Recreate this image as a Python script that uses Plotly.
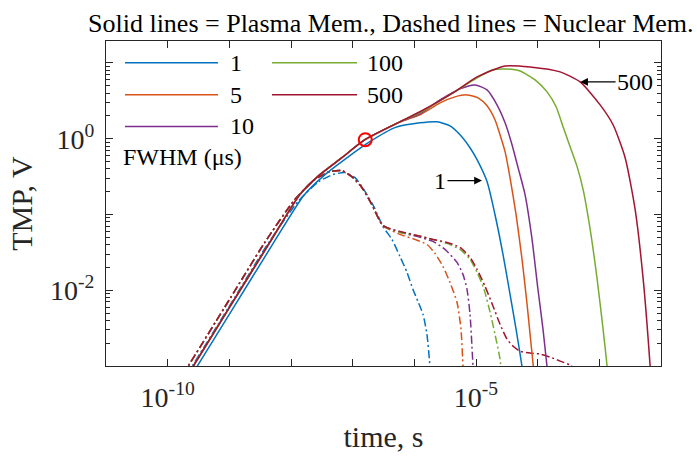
import numpy as np
import plotly.graph_objects as go

# ---------------- data ----------------
# Plasma membrane (solid) - common rising part for FWHM 5, 10, 100, 500 us
t_pm_rise = [1.57e-10, 2.55e-10, 1.01e-9, 4.53e-9, 1.39e-8, 2.94e-8, 6.68e-8, 1.58e-7, 5.84e-7]
v_pm_rise = [5.14e-4, 9.70e-4, 5.98e-3, 0.0428, 0.183, 0.336, 0.562, 0.970, 1.67]

t_pm_1 = [1.82e-10, 2.96e-10, 1.18e-9, 5.26e-9, 1.61e-8, 3.41e-8, 7.76e-8, 1.90e-7, 4.84e-7,
          1.23e-6, 2.33e-6, 3.78e-6, 5.50e-6, 8.00e-6, 1.04e-5, 1.51e-5, 2.03e-5, 2.74e-5,
          3.56e-5, 4.46e-5, 5.58e-5, 6.01e-5]
v_pm_1 = [5.14e-4, 9.70e-4, 5.98e-3, 0.0428, 0.178, 0.326, 0.546, 0.913, 1.40,
          1.62, 1.67, 1.48, 1.13, 0.761, 0.529, 0.272, 0.100, 0.0298,
          8.86e-3, 3.07e-3, 9.70e-4, 5.80e-4]

t_pm_5_tail = [1.23e-6, 2.61e-6, 4.56e-6, 7.14e-6, 1.08e-5, 1.51e-5, 2.03e-5, 2.45e-5, 2.96e-5,
               3.56e-5, 4.46e-5, 5.58e-5, 6.73e-5, 7.81e-5, 8.74e-5]
v_pm_5_tail = [2.07, 2.98, 3.57, 3.79, 3.46, 2.72, 1.78, 1.13, 0.675,
               0.307, 0.100, 0.0256, 6.54e-3, 1.95e-3, 7.85e-4]

t_pm_10_tail = [1.23e-6, 2.61e-6, 5.50e-6, 9.64e-6, 1.51e-5, 2.19e-5, 2.96e-5, 3.84e-5, 4.81e-5,
                6.24e-5, 8.11e-5, 1.01e-4, 1.22e-4, 1.42e-4, 1.53e-4]
v_pm_10_tail = [2.13, 3.26, 4.55, 5.13, 4.41, 2.80, 1.62, 0.834, 0.415,
                0.183, 0.0469, 0.0103, 3.07e-3, 9.70e-4, 5.80e-4]

t_pm_100_tail = [1.23e-6, 4.24e-6, 1.04e-5, 1.82e-5, 2.96e-5, 5.18e-5, 9.08e-5, 1.42e-4, 1.99e-4,
                 2.58e-4, 3.36e-4, 4.36e-4, 5.46e-4, 7.10e-4, 9.21e-4, 1.15e-3, 1.34e-3, 1.44e-3]
v_pm_100_tail = [2.20, 4.03, 6.35, 8.09, 8.34, 7.85, 5.97, 4.15, 2.64,
                 1.44, 0.785, 0.428, 0.213, 0.0635, 0.0140, 3.07e-3, 9.70e-4, 4.98e-4]

t_pm_500_tail = [1.23e-6, 4.24e-6, 1.04e-5, 2.96e-5, 7.53e-5, 2.31e-4, 4.88e-4, 1.03e-3, 1.67e-3,
                 2.62e-3, 3.81e-3, 5.14e-3, 6.68e-3, 7.19e-3]
v_pm_500_tail = [2.27, 4.03, 6.54, 9.13, 8.86, 7.62, 5.62, 2.80, 1.53,
                 0.562, 0.116, 0.0140, 9.70e-4, 3.68e-4]

# Nuclear membrane (dash-dot) - common rising part for FWHM 5, 10, 100, 500 us
t_nm_rise = [1.75e-10, 2.11e-10, 8.42e-10, 3.76e-9, 1.15e-8, 2.43e-8, 4.26e-8, 6.68e-8, 9.70e-8,
             1.41e-7, 2.05e-7, 3.09e-7]
v_nm_rise = [7.62e-4, 9.70e-4, 5.98e-3, 0.0428, 0.157, 0.289, 0.368, 0.379, 0.316,
             0.227, 0.135, 0.0717]

t_nm_1 = [2.03e-10, 2.45e-10, 9.78e-10, 4.36e-9, 1.34e-8, 2.83e-8, 4.77e-8, 7.47e-8, 1.09e-7,
          1.52e-7, 2.21e-7, 3.09e-7, 4.33e-7, 5.84e-7, 7.59e-7, 9.49e-7, 1.14e-6, 1.38e-6,
          1.60e-6, 1.79e-6, 1.86e-6]
v_nm_1 = [7.62e-4, 9.70e-4, 5.98e-3, 0.0428, 0.153, 0.272, 0.336, 0.357, 0.307,
          0.213, 0.127, 0.0695, 0.0469, 0.0280, 0.0173, 0.0103, 7.17e-3, 4.83e-3,
          2.64e-3, 1.0e-3, 6.75e-4]

t_nm_5_tail = [5.84e-7, 1.02e-6, 1.60e-6, 2.16e-6, 2.91e-6, 3.78e-6, 4.92e-6, 5.71e-6, 6.15e-6, 6.38e-6]
v_nm_5_tail = [0.0546, 0.0469, 0.0403, 0.0307, 0.0207, 0.0127, 6.95e-3, 3.07e-3, 1.0e-3, 5.80e-4]

t_nm_10_tail = [5.84e-7, 1.10e-6, 2.00e-6, 3.14e-6, 4.92e-6, 6.15e-6, 7.14e-6, 8.00e-6, 8.94e-6, 9.29e-6]
v_nm_10_tail = [0.0580, 0.0514, 0.0441, 0.0346, 0.0233, 0.0162, 0.0103, 4.83e-3, 1.0e-3, 5.80e-4]

t_nm_100_tail = [5.84e-7, 1.10e-6, 2.00e-6, 3.38e-6, 5.50e-6, 8.00e-6, 1.04e-5, 1.35e-5, 1.69e-5,
                 2.03e-5, 2.45e-5, 2.64e-5]
v_nm_100_tail = [0.0580, 0.0530, 0.0469, 0.0415, 0.0346, 0.0256, 0.0173, 0.0103, 5.14e-3,
                 2.64e-3, 1.24e-3, 6.75e-4]

t_nm_500_tail = [5.84e-7, 1.10e-6, 2.00e-6, 3.38e-6, 5.50e-6, 8.00e-6, 1.04e-5, 1.40e-5, 1.89e-5,
                 2.45e-5, 3.18e-5, 4.14e-5, 5.18e-5, 7.53e-5, 1.09e-4, 1.59e-4, 2.31e-4, 3.36e-4, 4.53e-4]
v_nm_500_tail = [0.0597, 0.0530, 0.0469, 0.0428, 0.0368, 0.0272, 0.0189, 0.0113, 6.16e-3,
                 3.57e-3, 2.27e-3, 1.78e-3, 1.57e-3, 1.48e-3, 1.44e-3, 1.31e-3, 1.16e-3, 1.03e-3, 8.60e-4]

fwhm_labels = ["1", "5", "10", "100", "500"]
colors = ["#0072BD", "#D95319", "#7E2F8E", "#77AC30", "#A2142F"]

marker_t = [1.6e-7]
marker_v = [0.97]

arrow_1 = (1.25e-5, 0.280)     # tip of the "1" arrow
arrow_500 = (4.88e-4, 5.62)    # tip of the "500" arrow

title_text = "Solid lines = Plasma Mem., Dashed lines = Nuclear Mem."
x_title = "time, s"
y_title = "TMP, V"
legend_title = "FWHM (μs)"

# tick labels shown on the axes
x_label_vals = [1e-10, 1e-5]
x_label_text = ["10<sup>-10</sup>", "10<sup>-5</sup>"]
y_label_vals = [1e-2, 1e0]
y_label_text = ["10<sup>-2</sup>", "10<sup>0</sup>"]

# ---------------- assemble series ----------------
pm_t = [t_pm_1,
        t_pm_rise + t_pm_5_tail,
        t_pm_rise + t_pm_10_tail,
        t_pm_rise + t_pm_100_tail,
        t_pm_rise + t_pm_500_tail]
pm_v = [v_pm_1,
        v_pm_rise + v_pm_5_tail,
        v_pm_rise + v_pm_10_tail,
        v_pm_rise + v_pm_100_tail,
        v_pm_rise + v_pm_500_tail]
nm_t = [t_nm_1,
        t_nm_rise + t_nm_5_tail,
        t_nm_rise + t_nm_10_tail,
        t_nm_rise + t_nm_100_tail,
        t_nm_rise + t_nm_500_tail]
nm_v = [v_nm_1,
        v_nm_rise + v_nm_5_tail,
        v_nm_rise + v_nm_10_tail,
        v_nm_rise + v_nm_100_tail,
        v_nm_rise + v_nm_500_tail]

FONT = "Liberation Serif"
AX = "#262626"
W, H = 697, 460
L, R, T, B = 106, 36, 41, 92
pw, ph = W - L - R, H - T - B
Y_RANGE = [-3, 1.29]
X_RANGE = [-11, -2]

def px(x):
    return (x - L) / pw

def py(y):
    return (H - B - y) / ph

fig = go.Figure()

for i in range(5):
    fig.add_trace(go.Scatter(x=nm_t[i], y=nm_v[i], mode="lines",
                             line=dict(color=colors[i], width=1.5, dash="8px,3px,2px,3px",
                                       shape="spline", smoothing=0.6),
                             showlegend=False))
for i in range(5):
    fig.add_trace(go.Scatter(x=pm_t[i], y=pm_v[i], mode="lines",
                             line=dict(color=colors[i], width=1.5, shape="spline", smoothing=0.6),
                             showlegend=False))

fig.add_trace(go.Scatter(x=marker_t, y=marker_v, mode="markers",
                         marker=dict(symbol="circle-open", size=13, color="#FF0000",
                                     line=dict(width=2, color="#FF0000")),
                         showlegend=False))

# empty traces so that the overlaid tick-only axes are drawn
for xa, ya in [("x2", "y"), ("x", "y2"), ("x", "y3")]:
    fig.add_trace(go.Scatter(x=[], y=[], xaxis=xa, yaxis=ya, mode="lines",
                             showlegend=False, hoverinfo="skip"))

# ---------------- manual legend ----------------
shapes = []
annotations = []
leg_items = [(0, 125, 218, 228, 63), (1, 125, 218, 228, 95), (2, 125, 218, 228, 127),
             (3, 272, 357, 365, 63), (4, 272, 357, 365, 95)]
for idx, x0, x1, xt, yy in leg_items:
    shapes.append(dict(type="line", xref="paper", yref="paper",
                       x0=px(x0), x1=px(x1), y0=py(yy), y1=py(yy),
                       line=dict(color=colors[idx], width=1.5)))
    annotations.append(dict(xref="paper", yref="paper", x=px(xt), y=py(yy),
                            text=fwhm_labels[idx], showarrow=False,
                            xanchor="left", yanchor="middle",
                            font=dict(family=FONT, size=24, color="black")))
annotations.append(dict(xref="paper", yref="paper", x=px(121), y=py(158),
                        text=legend_title, showarrow=False, xanchor="left", yanchor="middle",
                        font=dict(family=FONT, size=24, color="black")))

# title
annotations.append(dict(xref="paper", yref="paper", x=px(391), y=py(23),
                        text=title_text, showarrow=False, xanchor="center", yanchor="middle",
                        font=dict(family=FONT, size=26, color="black")))

# arrows
annotations.append(dict(x=np.log10(arrow_1[0]), y=np.log10(arrow_1[1]), xref="x", yref="y",
                        text="1", showarrow=True, ax=-42, ay=0, arrowhead=2, arrowsize=1.2,
                        arrowwidth=1.3, arrowcolor="black", standoff=0,
                        font=dict(family=FONT, size=24, color="black")))
annotations.append(dict(x=np.log10(arrow_500[0]), y=np.log10(arrow_500[1]), xref="x", yref="y",
                        text="500", showarrow=True, ax=55, ay=0, arrowhead=2, arrowsize=1.2,
                        arrowwidth=1.3, arrowcolor="black", standoff=0,
                        font=dict(family=FONT, size=24, color="black")))

x_decades = [10.0 ** k for k in range(-11, -1)]
y_decades = [10.0 ** k for k in range(-3, 2)]
y_minor = [m * 10.0 ** k for k in range(-3, 2) for m in range(2, 10)]

tick_only = dict(ticks="inside", tickwidth=1.2, tickcolor=AX, showticklabels=False,
                 showline=False, mirror="ticks", showgrid=False, zeroline=False,
                 tickmode="array")

fig.update_layout(
    width=W, height=H,
    margin=dict(l=L, r=R, t=T, b=B),
    paper_bgcolor="white", plot_bgcolor="white",
    shapes=shapes, annotations=annotations,
    xaxis=dict(type="log", range=X_RANGE, tickmode="array", tickvals=x_label_vals,
               ticktext=x_label_text, ticks="inside", ticklen=7, tickwidth=1.2, tickcolor=AX,
               showline=True, linecolor=AX, linewidth=1.2, mirror="ticks",
               showgrid=False, zeroline=False, ticklabelstandoff=6,
               tickfont=dict(family=FONT, size=28, color=AX),
               title=dict(text=x_title, font=dict(family=FONT, size=30, color=AX), standoff=14)),
    yaxis=dict(type="log", range=Y_RANGE, tickmode="array", tickvals=y_label_vals,
               ticktext=y_label_text, ticks="inside", ticklen=7, tickwidth=1.2, tickcolor=AX,
               showline=True, linecolor=AX, linewidth=1.2, mirror="ticks",
               showgrid=False, zeroline=False, ticklabelstandoff=5,
               tickfont=dict(family=FONT, size=28, color=AX),
               title=dict(text=y_title, font=dict(family=FONT, size=30, color=AX), standoff=8)),
    xaxis2=dict(type="log", range=X_RANGE, overlaying="x", side="bottom", anchor="y",
                tickvals=x_decades, ticklen=7, **tick_only),
    yaxis2=dict(type="log", range=Y_RANGE, overlaying="y", side="left", anchor="x",
                tickvals=y_minor, ticklen=4, **tick_only),
    yaxis3=dict(type="log", range=Y_RANGE, overlaying="y", side="left", anchor="x",
                tickvals=y_decades, ticklen=7, **tick_only),
)

fig.write_html("out.html")
